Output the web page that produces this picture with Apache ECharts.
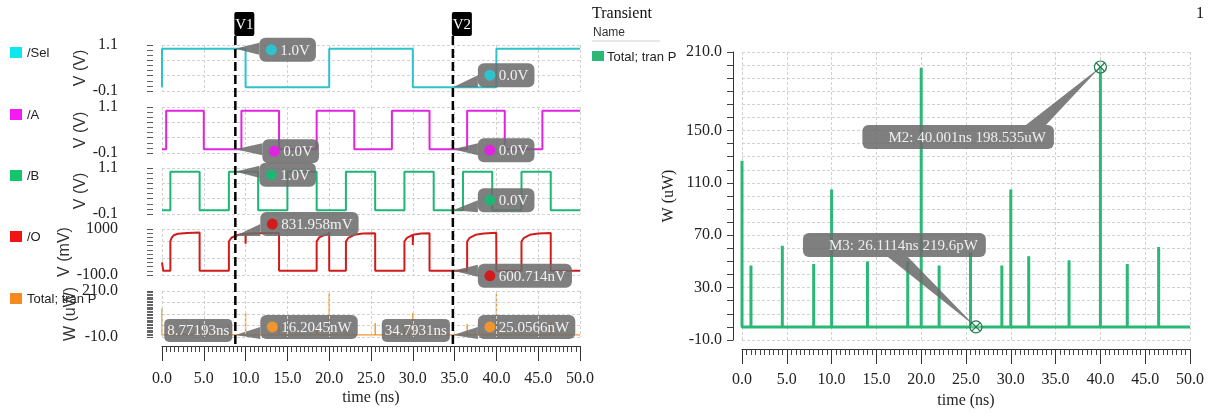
<!DOCTYPE html>
<html>
<head>
<meta charset="utf-8">
<script src="https://cdn.jsdelivr.net/npm/echarts@6/dist/echarts.min.js"></script>
<style>
  html, body { margin: 0; padding: 0; background: #fff; }
  #chart { width: 1212px; height: 416px; }
</style>
</head>
<body>
<div id="chart"></div>
<script>
// ---- waveform data (time in ns) ----
// digital inputs: edge times and the level held after each edge
const selEdges  = [0, 0, 10, 20, 30, 40, 50];
const selLevels = [0, 1, 0, 1, 0, 1];
const aEdges    = [0, 0.5, 5, 9.5, 14, 18.5, 23, 27.5, 32, 36.5, 41, 45.5, 50];
const aLevels   = [0, 1, 0, 1, 0, 1, 0, 1, 0, 1, 0, 1];
const bEdges    = [0, 1, 4.5, 8, 11.5, 15, 18.5, 22, 25.5, 29, 32.5, 36, 39.5, 43, 46.5, 50];
const bLevels   = [0, 1, 0, 1, 0, 1, 0, 1, 0, 1, 0, 1, 0, 1, 0];

// mux output /O (mV)
const oTime = [0, 0.15, 1.0, 1.0, 1.15, 1.4, 1.9, 3.0, 4.5, 4.5, 8.0, 8.0, 8.3, 8.77193, 9.3, 9.99, 10.0, 10.02, 11.0, 12.5, 14.0, 14.0,
               18.5, 18.5, 18.8, 19.5, 19.98, 20.0, 20.0, 22.0, 22.0, 22.3, 23.0, 24.0, 25.5, 25.5, 29.0, 29.0, 29.3, 29.99, 30.0, 30.03,
               31.0, 32.0, 32.0, 36.5, 36.5, 36.8, 37.5, 38.5, 39.98, 40.0, 40.0, 43.0, 43.0, 43.3, 44.0, 45.0, 46.5, 46.5, 50];
const oMilliVolt = [200, 0, 0, 700, 790, 850, 885, 905, 915, 0, 0, 700, 790, 831.958, 870, 885, 650, 880, 900, 905, 905, 0,
                    0, 700, 800, 860, 880, 930, 0, 0, 700, 790, 860, 890, 900, 0, 0, 700, 790, 860, 620, 860,
                    890, 900, 0, 0, 700, 790, 860, 890, 910, 935, 0, 0, 700, 790, 860, 890, 905, 0, 0];

// total transient power (uW): spike times and peak values
const pTime = [0, 1.0, 4.5, 8.0, 10.0, 14.0, 18.5, 20.0, 22.0, 25.5, 29.0, 30.0, 32.0, 36.5, 40.0, 43.0, 46.5];
const pPeak = [127, 47, 62, 48, 105, 50, 50, 198, 47, 57, 47, 105, 54, 51, 198.535, 48, 61];

// cursors and the values they read
const cursorNames = ['V1', 'V2'];
const cursorTime  = [8.77193, 34.7931];
const cursorTimeText = ['8.77193ns', '34.7931ns'];
const v1Values = [1.0, 0.0, 1.0, 831.958, 0.0162045];
const v1Texts  = ['1.0V', '0.0V', '1.0V', '831.958mV', '16.2045nW'];
const v2Values = [0.0, 0.0, 0.0, 0.000600714, 0.0250566];
const v2Texts  = ['0.0V', '0.0V', '0.0V', '600.714nV', '25.0566nW'];

// markers on the power plot
const markerTime  = [40.001, 26.1114];
const markerValue = [198.535, 0.0002196];
const markerTexts = ['M2: 40.001ns 198.535uW', 'M3: 26.1114ns 219.6pW'];

// stacked panel axes
const panelNames   = ['/Sel', '/A', '/B', '/O', 'Total; tran P'];
const panelUnits   = ['V (V)', 'V (V)', 'V (V)', 'V (mV)', 'W (uW)'];
const panelMin     = [-0.1, -0.1, -0.1, -100, -10];
const panelMax     = [1.1, 1.1, 1.1, 1000, 210];
const panelMinText = ['-0.1', '-0.1', '-0.1', '-100.0', '-10.0'];
const panelMaxText = ['1.1', '1.1', '1.1', '1000', '210.0'];
const powerTickLabels = [-10, 30, 70, 110, 150, 210];

// ---- styling ----
const lineColors   = ['#2ec3cc', '#e024e0', '#1fb574', '#d01c1c', '#f0962e'];
const legendColors = ['#10e6ee', '#f21cf2', '#12c46c', '#f21414', '#f58a1e'];
const rightGreen = '#2bb775';
const SERIF = '"Liberation Serif", "DejaVu Serif", serif';
const SANS = '"Liberation Sans", "Noto Sans", sans-serif';
const NARROW = '"Liberation Sans Narrow", "Liberation Sans", sans-serif';
const BOX = 'rgba(108,108,108,0.87)';
const GRIDLINE = { color: '#d2d2d2', type: [3, 2], width: 1 };
const panelTop = [45, 107, 168, 229, 291];
const panelInterval = [0.4, 0.4, 0.4, 400, 55];
const panelMinorSplit = [3, 3, 3, 4, 8];

function stepPoints(edges, levels) {
  const pts = [];
  for (let i = 0; i < levels.length; i++) pts.push([edges[i], levels[i]], [edges[i + 1], levels[i]]);
  return pts;
}
function spikePoints(times, peaks) {
  const pts = [[0, 0]];
  times.forEach((t, i) => { pts.push([t, 0], [t, peaks[i]], [t, 0]); });
  pts.push([50, 0]);
  return pts;
}
const seriesData = [stepPoints(selEdges, selLevels), stepPoints(aEdges, aLevels), stepPoints(bEdges, bLevels),
                    oTime.map((t, i) => [t, oMilliVolt[i]]), spikePoints(pTime, pPeak)];

const grids = [], xAxes = [], yAxes = [], series = [];
for (let i = 0; i < 5; i++) {
  const last = i === 4;
  grids.push({ left: 162, top: panelTop[i], width: 418, height: 46 });
  xAxes.push({
    gridIndex: i, type: 'value', min: 0, max: 50, interval: 5, offset: last ? 9 : 0,
    z: last ? 20 : 0, zlevel: last ? 1 : 0,
    axisLine: { show: last, onZero: false, lineStyle: { color: '#333', width: 1 } },
    axisTick: { show: last, length: 15, lineStyle: { color: '#333' } },
    minorTick: { show: last, splitNumber: 10, length: 6, lineStyle: { color: '#444' } },
    axisLabel: { show: last, margin: 25, fontFamily: SERIF, fontSize: 16, color: '#222', formatter: v => v.toFixed(1) },
    splitLine: { show: true, lineStyle: GRIDLINE },
    name: last ? 'time (ns)' : '', nameLocation: 'middle', nameGap: 44,
    nameTextStyle: { fontFamily: SERIF, fontSize: 16, color: '#222' }
  });
  const mn = panelMin[i], mx = panelMax[i], eps = (mx - mn) * 1e-6;
  yAxes.push({
    gridIndex: i, type: 'value', min: mn, max: mx, interval: panelInterval[i], offset: 9,
    axisLine: { show: false, onZero: false },
    axisTick: { show: true, length: 6, lineStyle: { color: '#555' } },
    minorTick: { show: true, splitNumber: panelMinorSplit[i], length: 6, lineStyle: { color: '#666' } },
    axisLabel: { margin: 35, fontFamily: SERIF, fontSize: 16, color: '#222',
      formatter: v => Math.abs(v - mn) < eps ? panelMinText[i] : (Math.abs(v - mx) < eps ? panelMaxText[i] : '') },
    splitLine: { show: true, lineStyle: GRIDLINE },
    name: panelUnits[i], nameLocation: 'middle', nameGap: 63, nameRotate: 90,
    nameTextStyle: { fontFamily: SANS, fontSize: 16, color: '#333' }
  });
  series.push({ type: 'line', xAxisIndex: i, yAxisIndex: i, data: seriesData[i],
    showSymbol: false, symbol: 'none', silent: true, lineStyle: { color: lineColors[i], width: last ? 1.4 : 2 } });
}

// right-hand power plot
grids.push({ left: 742, top: 52, width: 448, height: 288 });
xAxes.push({
  gridIndex: 5, type: 'value', min: 0, max: 50, interval: 5, offset: 9,
  axisLine: { show: true, onZero: false, lineStyle: { color: '#333', width: 1 } },
  axisTick: { show: true, length: 15, lineStyle: { color: '#333' } },
  minorTick: { show: true, splitNumber: 10, length: 6, lineStyle: { color: '#444' } },
  axisLabel: { margin: 23, fontFamily: SERIF, fontSize: 16, color: '#222', formatter: v => v.toFixed(1) },
  splitLine: { show: true, lineStyle: GRIDLINE },
  name: 'time (ns)', nameLocation: 'middle', nameGap: 42,
  nameTextStyle: { fontFamily: SERIF, fontSize: 16, color: '#222' }
});
yAxes.push({
  gridIndex: 5, type: 'value', min: -10, max: 210, interval: 10, offset: 9,
  axisLine: { show: true, onZero: false, lineStyle: { color: '#333', width: 1 } },
  axisTick: { show: true, length: 6, lineStyle: { color: '#444' } },
  axisLabel: { margin: 11, fontFamily: SERIF, fontSize: 16, color: '#222',
    formatter: v => powerTickLabels.some(p => Math.abs(p - v) < 1e-6) ? v.toFixed(1) : '' },
  splitLine: { show: true, lineStyle: GRIDLINE },
  name: 'W (uW)', nameLocation: 'middle', nameGap: 56, nameRotate: 90,
  nameTextStyle: { fontFamily: SERIF, fontSize: 16, color: '#222' }
});
series.push({ type: 'line', xAxisIndex: 5, yAxisIndex: 5, data: spikePoints(pTime, pPeak),
  showSymbol: false, symbol: 'none', silent: true, lineStyle: { color: rightGreen, width: 3 } });

const chart = echarts.init(document.getElementById('chart'));
chart.setOption({ animation: false, backgroundColor: '#fff', grid: grids, xAxis: xAxes, yAxis: yAxes, series });

// ---- annotations: legends, cursors, callouts ----
const measureCtx = document.createElement('canvas').getContext('2d');
function textWidth(s, font) { measureCtx.font = font; return measureCtx.measureText(s).width; }
const CALLOUT_FONT = '15px ' + SERIF;
const els = [];

// left legend
panelNames.forEach((n, i) => {
  const cy = panelTop[i] + 8;
  els.push({ type: 'rect', shape: { x: 10, y: cy - 6, width: 12, height: 11 }, style: { fill: legendColors[i] } });
  els.push({ type: 'text', x: 27, y: cy, style: { text: n, font: '13px ' + NARROW, fill: '#222', verticalAlign: 'middle' } });
});

// right header and legend
els.push({ type: 'text', x: 592, y: 14, style: { text: 'Transient', font: '16px ' + SERIF, fill: '#111', verticalAlign: 'middle' } });
els.push({ type: 'text', x: 593, y: 33, style: { text: 'Name', font: '12px ' + SANS, fill: '#333', verticalAlign: 'middle' } });
els.push({ type: 'line', shape: { x1: 592, y1: 41, x2: 660, y2: 41 }, style: { stroke: '#cfcfcf', lineWidth: 1 } });
els.push({ type: 'rect', shape: { x: 592, y: 51, width: 12, height: 10 }, style: { fill: rightGreen } });
els.push({ type: 'text', x: 607, y: 57, style: { text: 'Total; tran P', font: '13px ' + NARROW, fill: '#222', verticalAlign: 'middle' } });
els.push({ type: 'text', x: 1196, y: 14, style: { text: '1', font: '16px ' + SERIF, fill: '#111', verticalAlign: 'middle' } });

// each plot's frame ends just past its last tick label
els.push({ type: 'rect', z: 60, shape: { x: 589, y: 368, width: 10, height: 26 }, style: { fill: '#fff' } });
els.push({ type: 'rect', z: 60, shape: { x: 1205, y: 368, width: 7, height: 26 }, style: { fill: '#fff' } });

// value callout with a coloured dot and a pointer to the anchor point
function valueCallout(ax, ay, dx, dy, text, dot) {
  const h = 24, bx = ax + dx, by = ay + dy;
  const w = 21 + textWidth(text, CALLOUT_FONT) + 6;
  const cy = Math.min(Math.max(ay, by + 6), by + h - 6);
  els.push({ type: 'polygon', z: 50, shape: { points: [[ax, ay], [bx, cy - 6], [bx, cy + 6]] }, style: { fill: BOX } });
  els.push({ type: 'rect', z: 50, shape: { x: bx, y: by, width: w, height: h, r: 6 }, style: { fill: BOX } });
  els.push({ type: 'circle', z: 51, shape: { cx: bx + 12, cy: by + h / 2, r: 5.5 }, style: { fill: dot } });
  els.push({ type: 'text', z: 51, x: bx + 21, y: by + h / 2 + 1, style: { text, font: CALLOUT_FONT, fill: '#f2f2f2', verticalAlign: 'middle' } });
}
// time readout box, right-aligned to the cursor
function plainBox(x, y, text) {
  const h = 23, w = textWidth(text, CALLOUT_FONT) + 6, bx = x - w;
  els.push({ type: 'rect', z: 50, shape: { x: bx, y, width: w, height: h, r: 5 }, style: { fill: BOX } });
  els.push({ type: 'text', z: 51, x: bx + 3, y: y + h / 2 + 1, style: { text, font: CALLOUT_FONT, fill: '#f2f2f2', verticalAlign: 'middle' } });
}

const cursorValues = [v1Values, v2Values];
const cursorTexts = [v1Texts, v2Texts];
// per-panel box offsets from each cursor reading
const cursorOffsets = [[[24, -11], [27, -10], [24, -9], [25, -24], [25, -20]],
                       [[25, -24], [25, -11], [25, -22], [25, -7], [25, -20]]];
cursorTime.forEach((t, c) => {
  const x = chart.convertToPixel({ gridIndex: 4 }, [t, 0])[0];
  els.push({ type: 'line', z: 40, shape: { x1: x, y1: 36, x2: x, y2: 346 }, style: { stroke: '#000', lineWidth: 2.5, lineDash: [9, 4] } });
  els.push({ type: 'rect', z: 41, shape: { x: x - 1, y: 12, width: 20, height: 24, r: 2 }, style: { fill: '#000' } });
  els.push({ type: 'text', z: 42, x: x + 9, y: 25, style: { text: cursorNames[c], font: '15px ' + SERIF, fill: '#fff', align: 'center', verticalAlign: 'middle' } });
  for (let i = 0; i < 5; i++) {
    const p = chart.convertToPixel({ gridIndex: i }, [t, cursorValues[c][i]]);
    valueCallout(p[0], p[1], cursorOffsets[c][i][0], cursorOffsets[c][i][1], cursorTexts[c][i], lineColors[i]);
  }
  const pBase = chart.convertToPixel({ gridIndex: 4 }, [t, cursorValues[c][4]]);
  plainBox(x - 3, pBase[1] - 16, cursorTimeText[c]);
});

// power markers with callouts
const markerBox = [[-238, 58], [-173, -94]];
markerTime.forEach((t, m) => {
  const p = chart.convertToPixel({ gridIndex: 5 }, [t, markerValue[m]]);
  const h = 24, w = 26 + textWidth(markerTexts[m], CALLOUT_FONT) + 8;
  const bx = p[0] + markerBox[m][0], by = p[1] + markerBox[m][1];
  const tip = m === 0 ? [[bx + w - 28, by], [bx + w - 8, by]] : [[bx + 85, by + h], [bx + 105, by + h]];
  els.push({ type: 'polygon', z: 50, shape: { points: [[p[0], p[1]], tip[0], tip[1]] }, style: { fill: BOX } });
  els.push({ type: 'rect', z: 50, shape: { x: bx, y: by, width: w, height: h, r: 6 }, style: { fill: BOX } });
  els.push({ type: 'text', z: 51, x: bx + 26, y: by + h / 2 + 1, style: { text: markerTexts[m], font: CALLOUT_FONT, fill: '#eeeeee', verticalAlign: 'middle' } });
  els.push({ type: 'circle', z: 52, shape: { cx: p[0], cy: p[1], r: 6 }, style: { fill: 'rgba(255,255,255,0.25)', stroke: '#1d7a4c', lineWidth: 1.2 } });
  els.push({ type: 'line', z: 52, shape: { x1: p[0] - 4, y1: p[1] - 4, x2: p[0] + 4, y2: p[1] + 4 }, style: { stroke: '#1d7a4c', lineWidth: 1.2 } });
  els.push({ type: 'line', z: 52, shape: { x1: p[0] - 4, y1: p[1] + 4, x2: p[0] + 4, y2: p[1] - 4 }, style: { stroke: '#1d7a4c', lineWidth: 1.2 } });
});

chart.setOption({ graphic: { elements: els } });
</script>
</body>
</html>
